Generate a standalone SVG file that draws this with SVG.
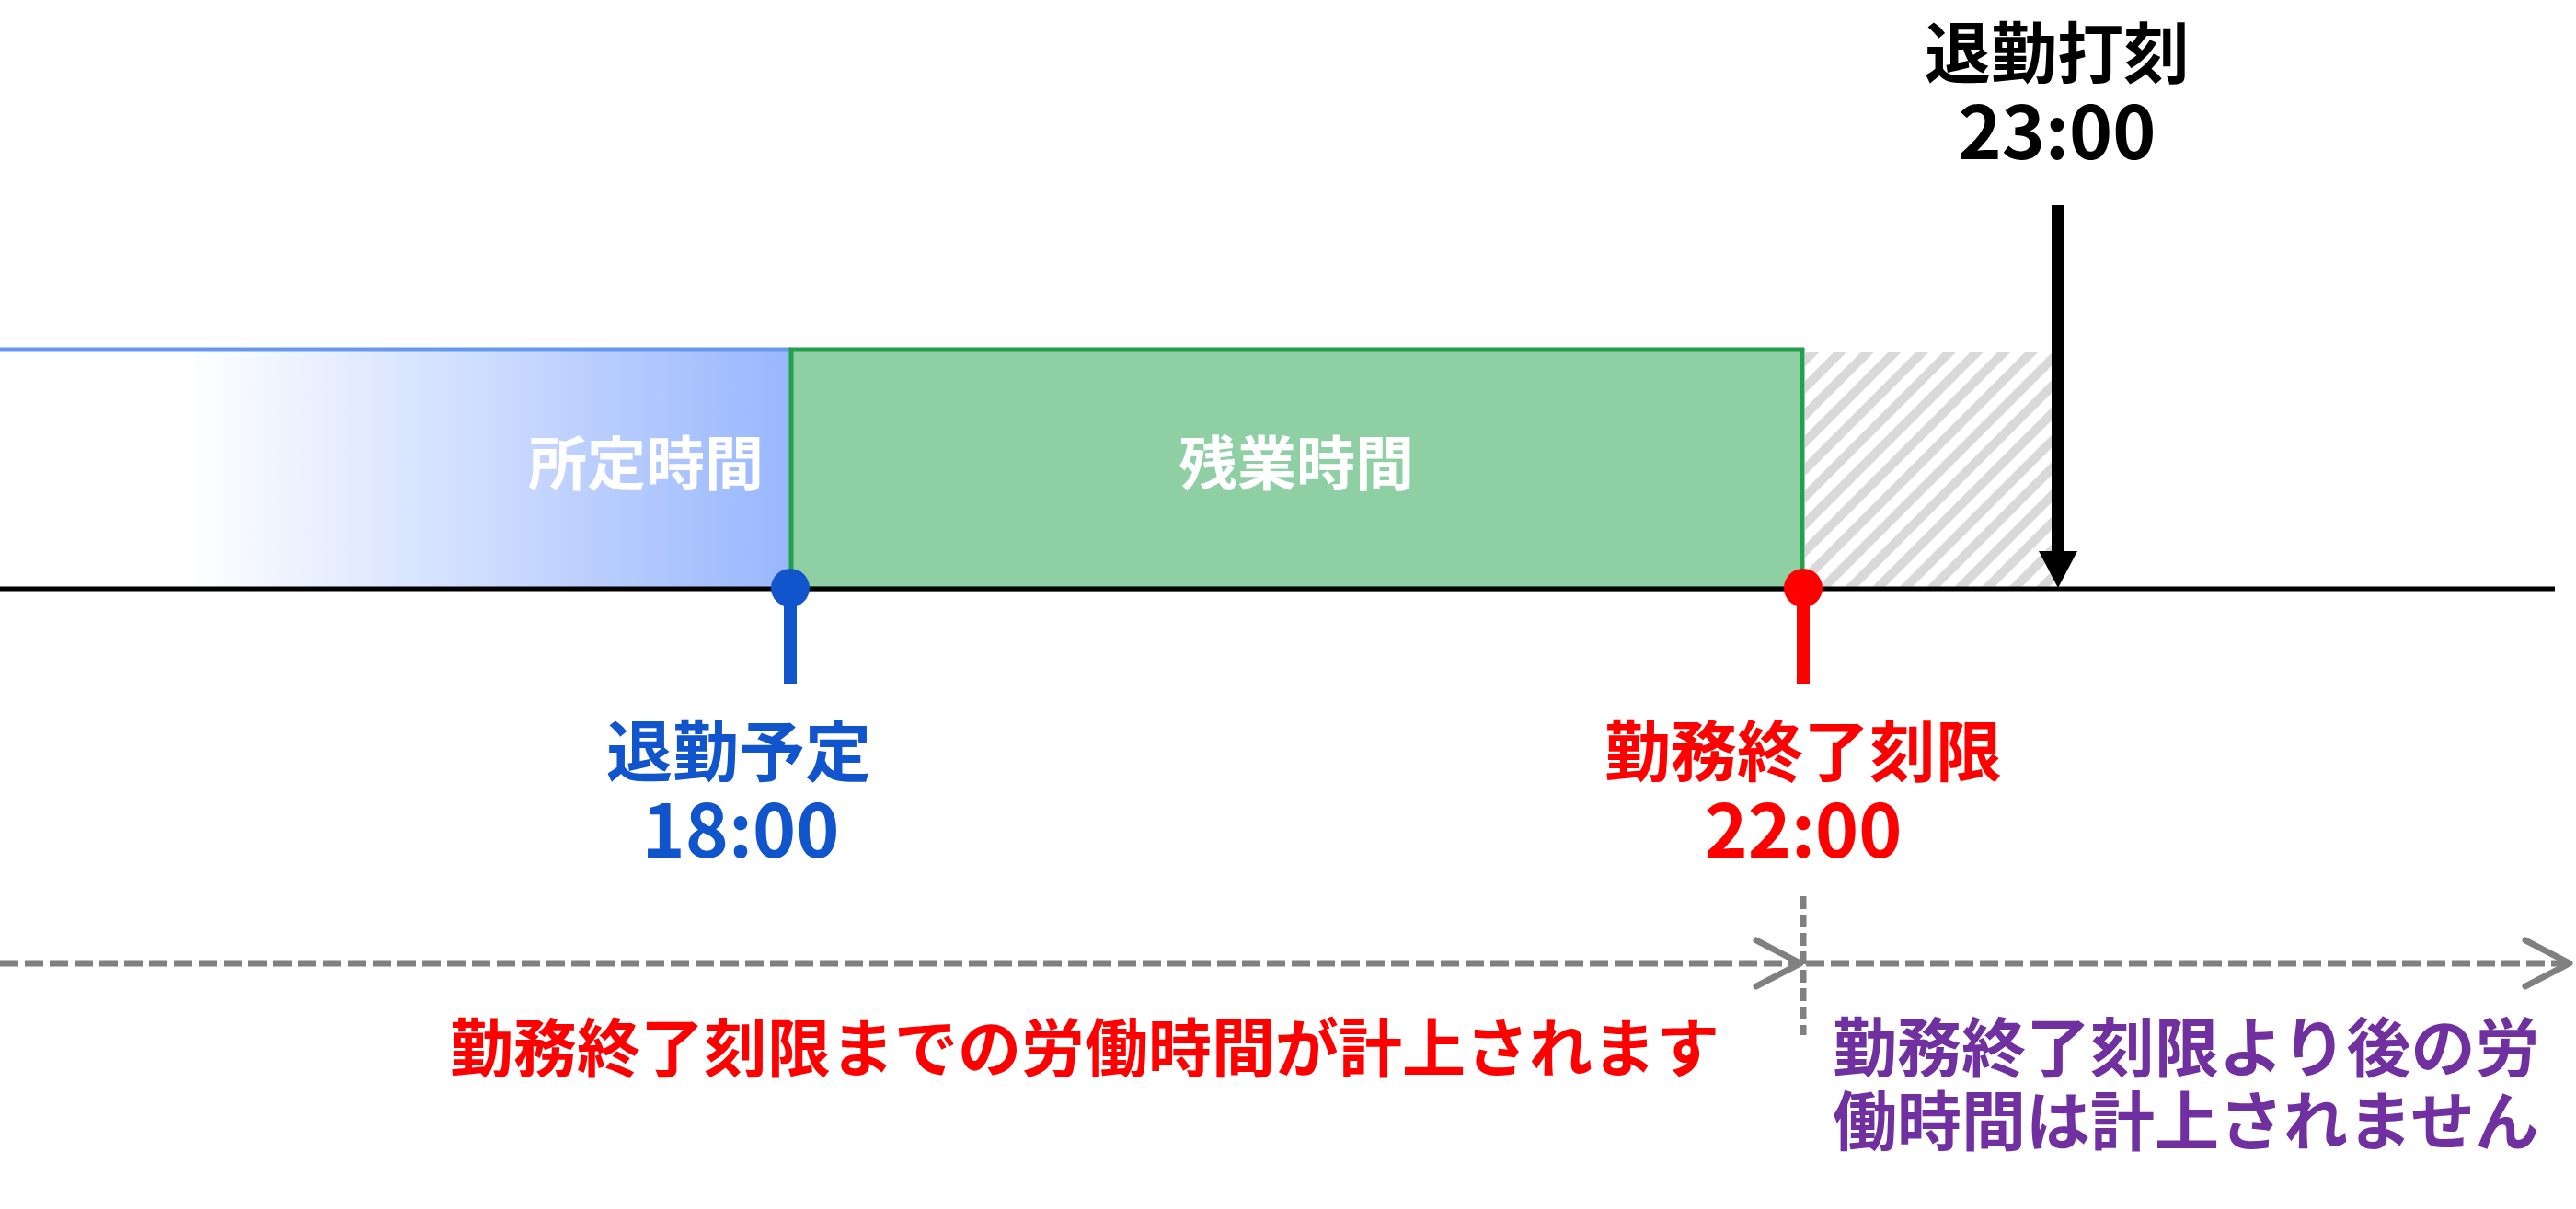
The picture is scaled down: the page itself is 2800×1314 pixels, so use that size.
<svg xmlns="http://www.w3.org/2000/svg" width="2800" height="1314" viewBox="0 0 2800 1314">
<style>
  text { font-family: "Noto Sans CJK JP", "Noto Sans", sans-serif; font-weight: bold; }
  .jp { font-size: 72px; }
  .num { font-size: 80px; }
  .bar { font-size: 64px; fill: #ffffff; }
  .note { font-size: 70px; }
  .dash { stroke: #808080; stroke-width: 7; fill: none; stroke-dasharray: 20 7; }
  .vdash { stroke: #808080; stroke-width: 7; fill: none; stroke-dasharray: 14 6; }
</style>
<defs>
  <linearGradient id="blueGrad" x1="0" y1="0" x2="1" y2="0">
    <stop offset="0.24" stop-color="#ffffff"/>
    <stop offset="1" stop-color="#99b7fe"/>
  </linearGradient>
  <pattern id="hatch" width="21" height="21" patternUnits="userSpaceOnUse" patternTransform="rotate(45)">
    <rect width="21" height="21" fill="#ffffff"/>
    <rect x="0" y="0" width="10" height="21" fill="#d9d9d9"/>
  </pattern>
  <marker id="chev" viewBox="0 0 60 60" markerWidth="60" markerHeight="60" refX="53" refY="30" markerUnits="userSpaceOnUse" orient="auto">
    <path d="M5 5 L53 30 L5 55" fill="none" stroke="#808080" stroke-width="7" stroke-linecap="round" stroke-linejoin="round"/>
  </marker>
</defs>
<rect width="2800" height="1314" fill="#ffffff"/>

<g id="scheduled-time">
  <rect x="0" y="380" width="860" height="260" fill="url(#blueGrad)"/>
  <line x1="0" y1="380" x2="860" y2="380" stroke="#6699ee" stroke-width="5"/>
  <text class="bar" x="830" y="527" text-anchor="end">所定時間</text>
</g>

<g id="overtime">
  <rect x="860" y="380" width="1099" height="260" fill="#8ecfa3" stroke="#22a04b" stroke-width="5"/>
  <text class="bar" x="1409" y="527" text-anchor="middle">残業時間</text>
</g>

<g id="uncounted">
  <rect x="1962" y="383" width="270" height="255" fill="url(#hatch)"/>
</g>

<g id="timeline">
  <line x1="0" y1="640" x2="2777" y2="640" stroke="#000000" stroke-width="5"/>
</g>

<g id="clock-out-scheduled">
  <line x1="859" y1="640" x2="859" y2="743" stroke="#1155cc" stroke-width="14"/>
  <circle cx="859" cy="639" r="21" fill="#1155cc"/>
  <text text-anchor="middle" fill="#1155cc"><tspan class="jp" x="803" y="843">退勤予定</tspan><tspan class="num" x="805" y="932">18:00</tspan></text>
</g>

<g id="work-end-limit">
  <line x1="1960" y1="640" x2="1960" y2="743" stroke="#ff0000" stroke-width="14"/>
  <circle cx="1960" cy="639" r="21" fill="#ff0000"/>
  <text text-anchor="middle" fill="#ff0000"><tspan class="jp" x="1960" y="843">勤務終了刻限</tspan><tspan class="num" x="1960" y="932">22:00</tspan></text>
</g>

<g id="clock-out-stamp">
  <text text-anchor="middle" fill="#000000"><tspan class="jp" x="2236" y="84">退勤打刻</tspan><tspan class="num" x="2236" y="173">23:00</tspan></text>
  <line x1="2237" y1="223" x2="2237" y2="602" stroke="#000000" stroke-width="14"/>
  <polygon points="2216,599 2258,599 2237,639" fill="#000000"/>
</g>

<g id="connectors">
  <line class="vdash" x1="1960" y1="974" x2="1960" y2="1125"/>
  <line class="dash" x1="0" y1="1047" x2="1957" y2="1047" marker-end="url(#chev)"/>
  <line class="dash" x1="1963" y1="1047" x2="2793" y2="1047" marker-end="url(#chev)"/>
</g>

<g id="notes">
  <text class="note" x="1179" y="1165" text-anchor="middle" fill="#ff0000" style="font-size:69px">勤務終了刻限までの労働時間が計上されます</text>
  <text class="note" fill="#7030a0"><tspan x="1992" y="1165">勤務終了刻限より後の労</tspan><tspan x="1992" y="1245">働時間は計上されません</tspan></text>
</g>
</svg>
